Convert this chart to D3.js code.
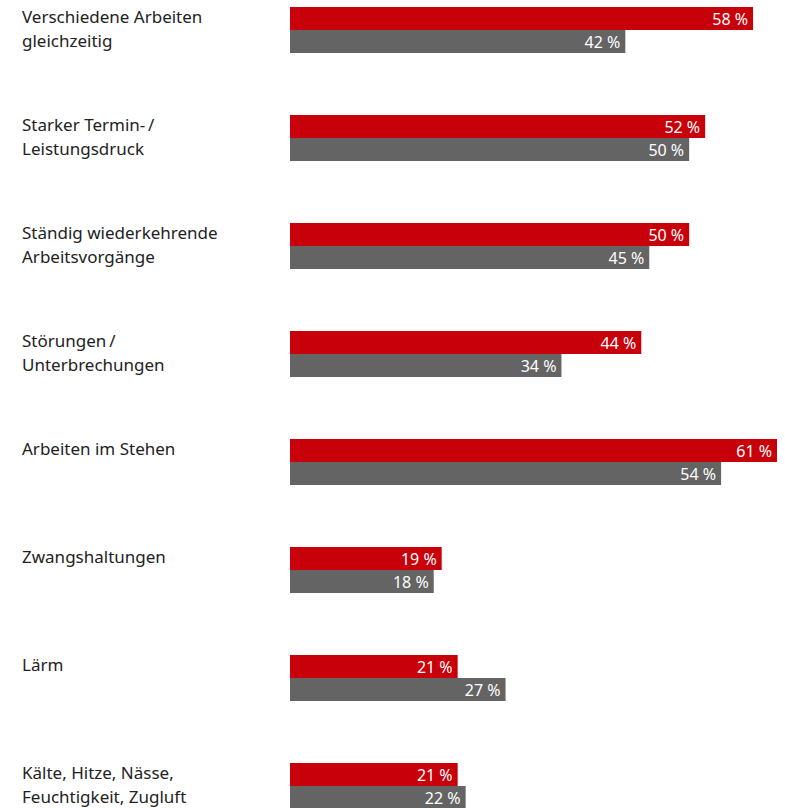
<!DOCTYPE html>
<html>
<head>
<meta charset="utf-8">
<script src="https://cdn.jsdelivr.net/npm/d3@7"></script>
<style>
  body { margin: 0; background: #fff; }
  svg { display: block; }
  text { font-family: "Noto Sans", sans-serif; }
</style>
</head>
<body>
<svg id="chart" width="785" height="808"></svg>
<script>
// categories (label lines) and the two series in percent
var categories = [
  ['Verschiedene Arbeiten', 'gleichzeitig'],
  ['Starker Termin-\u2009/', 'Leistungsdruck'],
  ['Ständig wiederkehrende', 'Arbeitsvorgänge'],
  ['Störungen\u2009/', 'Unterbrechungen'],
  ['Arbeiten im Stehen'],
  ['Zwangshaltungen'],
  ['Lärm'],
  ['Kälte, Hitze, Nässe,', 'Feuchtigkeit, Zugluft']
]
var redValues = [58, 52, 50, 44, 61, 19, 21, 21]
var grayValues = [42, 50, 45, 34, 54, 18, 27, 22]

var RED = '#c8000a'
var GRAY = '#646464'
var BAR_H = 23

var svg = d3.select('#chart')

var x = d3.scaleLinear().domain([0, 61]).range([290, 777])
var y = d3.scaleBand()
  .domain(d3.range(categories.length))
  .range([7, 7 + 108 * categories.length])
  .paddingInner(0)

var groups = svg.selectAll('g.group')
  .data(categories)
  .enter()
  .append('g')
  .attr('class', 'group')
  .attr('transform', function(d, i) { return 'translate(0,' + y(i) + ')' })

// category labels
groups.append('text')
  .attr('x', 22)
  .attr('y', 16)
  .attr('font-size', 17)
  .attr('fill', '#222')
  .selectAll('tspan')
  .data(function(d) { return d })
  .enter()
  .append('tspan')
  .attr('x', 22)
  .attr('dy', function(d, i) { return i === 0 ? 0 : 24 })
  .text(function(d) { return d })

function drawSeries(values, color, offset) {
  groups.append('rect')
    .attr('x', x(0))
    .attr('y', offset)
    .attr('width', function(d, i) { return x(values[i]) - x(0) })
    .attr('height', BAR_H)
    .attr('fill', color)

  groups.append('text')
    .attr('x', function(d, i) { return x(values[i]) - 5 })
    .attr('y', offset + 18)
    .attr('text-anchor', 'end')
    .attr('font-size', 16)
    .attr('fill', '#fff')
    .text(function(d, i) { return values[i] + ' %' })
}

drawSeries(redValues, RED, 0)
drawSeries(grayValues, GRAY, BAR_H)
</script>
</body>
</html>
